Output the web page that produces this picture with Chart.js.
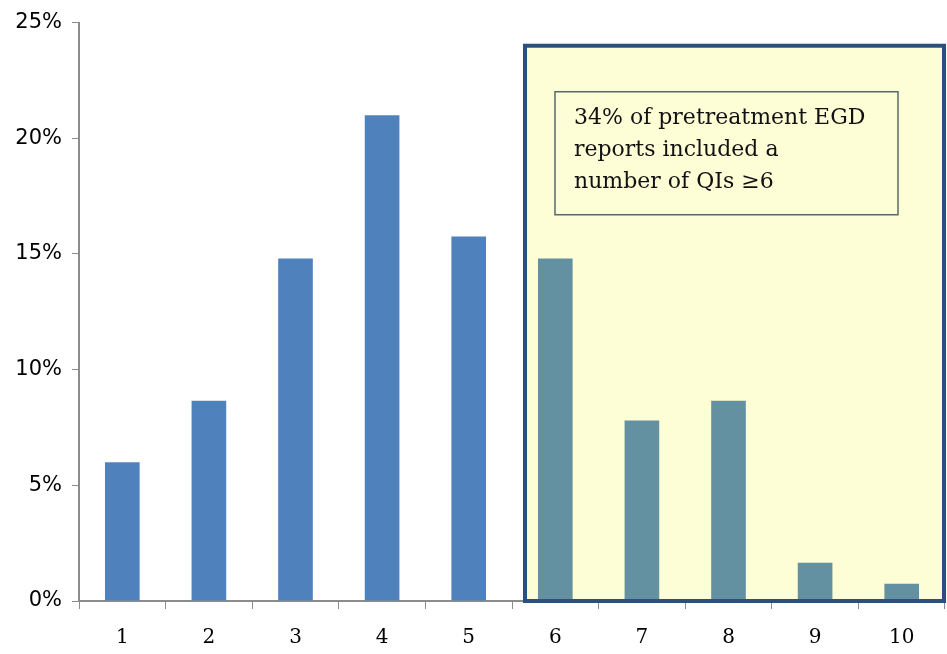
<!DOCTYPE html>
<html>
<head>
<meta charset="utf-8">
<script src="https://cdn.jsdelivr.net/npm/chart.js@4/dist/chart.umd.min.js"></script>
<style>
  html, body { margin: 0; padding: 0; background: #fff; }
  #wrap { width: 947px; height: 654px; }
</style>
</head>
<body>
<div id="wrap"><canvas id="qiChart" width="947" height="654"></canvas></div>
<script>
// number of quality indicators per report, and share of reports (%)
const qiCounts = ['1', '2', '3', '4', '5', '6', '7', '8', '9', '10'];
const reportShare = [6.0, 8.65, 14.8, 21.0, 15.75, 14.8, 7.8, 8.65, 1.65, 0.75];
const yTicks = [0, 5, 10, 15, 20, 25];
const highlightFrom = 5; // index of the "6" category
const highlightTop = 24;
const noteLines = ['34% of pretreatment EGD', 'reports included a', 'number of QIs \u22656'];

const barColors = reportShare.map((v, i) => i >= highlightFrom ? '#6391a1' : '#4f81bd');

// shaded panel behind the ≥6 bars plus its caption
const highlightPanel = {
  id: 'highlightPanel',
  panelRect(chart) {
    const x = chart.scales.x, y = chart.scales.y;
    const step = x.getPixelForValue(1) - x.getPixelForValue(0);
    return {
      left: x.getPixelForValue(highlightFrom) - step * 0.35,
      right: chart.chartArea.right - 1,
      top: y.getPixelForValue(highlightTop),
      bottom: y.getPixelForValue(0)
    };
  },
  beforeDatasetsDraw(chart) {
    const r = this.panelRect(chart);
    const ctx = chart.ctx;
    ctx.save();
    ctx.fillStyle = '#fdfdd6';
    ctx.fillRect(r.left, r.top, r.right - r.left, r.bottom - r.top);

    // caption box
    const bx = r.left + 30, by = r.top + 46, bw = 343, bh = 123;
    ctx.strokeStyle = '#5a6770';
    ctx.lineWidth = 1.5;
    ctx.strokeRect(bx, by, bw, bh);
    ctx.fillStyle = '#111';
    ctx.font = '22px "DejaVu Serif", serif';
    ctx.textBaseline = 'alphabetic';
    noteLines.forEach((line, i) => ctx.fillText(line, bx + 19, by + 32 + i * 32));
    ctx.restore();
  },
  afterDatasetsDraw(chart) {
    const r = this.panelRect(chart);
    const ctx = chart.ctx;
    ctx.save();
    ctx.strokeStyle = '#2b4f7e';
    ctx.lineWidth = 4;
    ctx.strokeRect(r.left, r.top, r.right - r.left, r.bottom - r.top);
    ctx.restore();
  }
};

new Chart(document.getElementById('qiChart'), {
  type: 'bar',
  data: {
    labels: qiCounts,
    datasets: [{
      data: reportShare,
      backgroundColor: barColors,
      categoryPercentage: 0.8,
      barPercentage: 0.5
    }]
  },
  options: {
    responsive: false,
    animation: false,
    layout: { padding: { top: 20, right: 2, left: 0, bottom: 0 } },
    plugins: {
      legend: { display: false },
      tooltip: { enabled: false }
    },
    scales: {
      x: {
        grid: { display: true, offset: true, drawOnChartArea: false, drawTicks: true, tickLength: 8, color: '#8c8c8c' },
        border: { color: '#8c8c8c', width: 2 },
        ticks: { color: '#000', font: { family: 'DejaVu Serif', size: 20 }, padding: 17 },
        afterFit(scale) { scale.height = 53; }
      },
      y: {
        min: 0,
        max: 25,
        afterBuildTicks(scale) { scale.ticks = yTicks.map(v => ({ value: v })); },
        grid: { display: true, drawOnChartArea: false, drawTicks: true, tickLength: 7, color: '#8c8c8c' },
        border: { color: '#8c8c8c', width: 2 },
        ticks: {
          color: '#000',
          font: { family: 'DejaVu Sans', size: 21 },
          padding: 10,
          callback: v => v + '%'
        },
        afterFit(scale) { scale.width = 79; }
      }
    }
  },
  plugins: [highlightPanel]
});
</script>
</body>
</html>
